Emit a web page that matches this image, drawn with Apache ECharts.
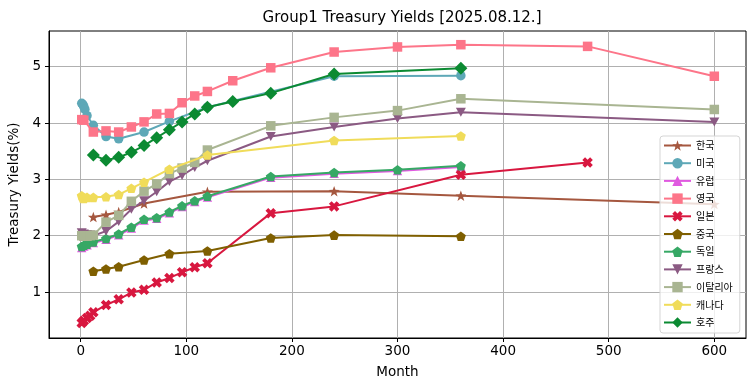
<!DOCTYPE html>
<html>
<head>
<meta charset="utf-8">
<script src="https://cdn.jsdelivr.net/npm/echarts@6/dist/echarts.min.js"></script>
<style>html,body{margin:0;padding:0;background:#fff}#c{width:755px;height:391px}</style>
</head>
<body>
<div id="c"></div>
<script>
// ---- data ----
const seriesNames = ['한국','미국','유럽','영국','일본','중국','독일','프랑스','이탈리아','캐나다','호주'];
const xTicks = [0,100,200,300,400,500,600];
const yTicks = [1,2,3,4,5];

const koreaMonths = [12,24,36,60,120,240,360,600];
const koreaYields = [2.33,2.37,2.42,2.57,2.78,2.79,2.71,2.56];

const usMonths = [1,2,3,4,6,12,24,36,60,84,120,240,360];
const usYields = [4.35,4.33,4.29,4.24,4.13,3.96,3.76,3.72,3.84,4.03,4.28,4.83,4.84];

const euMonths = [1,3,6,12,24,36,48,60,72,84,96,108,120,180,240,300,360];
const euYields = [1.78,1.81,1.83,1.87,1.93,2.01,2.13,2.27,2.30,2.40,2.51,2.60,2.68,3.03,3.10,3.15,3.22];

const ukMonths = [1,3,12,24,36,48,60,72,84,96,108,120,144,180,240,300,360,480,600];
const ukYields = [4.06,4.05,3.84,3.86,3.84,3.93,4.02,4.16,4.17,4.36,4.48,4.56,4.75,4.98,5.26,5.35,5.39,5.36,4.83];

const japanMonths = [1,3,6,9,12,24,36,48,60,72,84,96,108,120,180,240,360,480];
const japanYields = [0.45,0.49,0.54,0.58,0.64,0.77,0.87,0.99,1.04,1.17,1.25,1.35,1.44,1.51,2.40,2.52,3.08,3.30];

const chinaMonths = [12,24,36,60,84,120,180,240,360];
const chinaYields = [1.37,1.41,1.45,1.57,1.68,1.73,1.96,2.01,1.99];

const germanyMonths = [1,3,6,12,24,36,48,60,72,84,96,108,120,180,240,300,360];
const germanyYields = [1.81,1.83,1.85,1.89,1.95,2.03,2.15,2.29,2.32,2.42,2.53,2.62,2.70,3.05,3.12,3.17,3.24];

const franceMonths = [1,3,6,9,12,24,36,48,60,72,84,96,108,120,180,240,300,360,600];
const franceYields = [2.05,2.03,2.02,2.01,2.00,2.08,2.25,2.47,2.62,2.78,2.96,3.07,3.21,3.33,3.76,3.93,4.08,4.19,4.02];

const italyMonths = [1,3,6,9,12,24,36,48,60,72,84,96,108,120,180,240,300,360,600];
const italyYields = [2.00,1.99,1.99,2.00,2.01,2.24,2.36,2.61,2.79,2.92,3.10,3.20,3.30,3.52,3.95,4.10,4.22,4.43,4.24];

const canadaMonths = [1,2,3,6,12,24,36,48,60,84,120,240,360];
const canadaYields = [2.71,2.67,2.66,2.68,2.68,2.69,2.73,2.84,2.95,3.18,3.43,3.69,3.77];

const australiaMonths = [12,24,36,48,60,72,84,96,108,120,144,180,240,360];
const australiaYields = [3.43,3.34,3.39,3.48,3.60,3.74,3.88,4.02,4.16,4.28,4.38,4.53,4.87,4.97];

// ---- styles ----
const STAR = 'path://M0,-10L2.35,-3.24L9.51,-3.09L3.8,1.24L5.88,8.09L0,4L-5.88,8.09L-3.8,1.24L-9.51,-3.09L-2.35,-3.24Z';
const XMARK = 'path://M0,2.6L2.6,0L5,2.4L7.4,0L10,2.6L7.6,5L10,7.4L7.4,10L5,7.6L2.6,10L0,7.4L2.4,5Z';
const PENT = 'path://M0,-10L9.51,-3.09L5.88,8.09L-5.88,8.09L-9.51,-3.09Z';
const TRIDOWN = 'path://M-10,-9L10,-9L0,9Z';
const TRIUP = 'path://M0,-9L10,9L-10,9Z';

const specs = [
  {m: koreaMonths, v: koreaYields, c: '#a5573f', s: STAR, z: 11},
  {m: usMonths, v: usYields, c: '#5ea8b7', s: 'circle', z: 9.5},
  {m: euMonths, v: euYields, c: '#e05ae0', s: TRIUP, z: 9.5},
  {m: ukMonths, v: ukYields, c: '#fd7589', s: 'rect', z: 9.5},
  {m: japanMonths, v: japanYields, c: '#d8173f', s: XMARK, z: 10.5},
  {m: chinaMonths, v: chinaYields, c: '#7f5f00', s: PENT, z: 10},
  {m: germanyMonths, v: germanyYields, c: '#36a865', s: PENT, z: 10},
  {m: franceMonths, v: franceYields, c: '#8b5a83', s: TRIDOWN, z: 10},
  {m: italyMonths, v: italyYields, c: '#a9b592', s: 'rect', z: 9.5},
  {m: canadaMonths, v: canadaYields, c: '#f0dc5a', s: PENT, z: 10},
  {m: australiaMonths, v: australiaYields, c: '#0b8a32', s: 'diamond', z: 13}
];

const series = specs.map((sp, i) => ({
  name: seriesNames[i],
  type: 'line',
  data: sp.m.map((m, k) => [m, sp.v[k]]),
  symbol: sp.s,
  symbolSize: sp.z,
  symbolKeepAspect: true,
  showSymbol: true,
  lineStyle: {width: 2, color: sp.c},
  itemStyle: {color: sp.c, borderColor: sp.c, borderWidth: 0},
  emphasis: {disabled: true},
  z: 2 + i
}));

const chart = echarts.init(document.getElementById('c'), null, {renderer: 'canvas'});
const FONT = 'DejaVu Sans, Noto Sans CJK KR, sans-serif';
chart.setOption({
  animation: false,
  backgroundColor: '#fff',
  title: {
    text: 'Group1 Treasury Yields [2025.08.12.]',
    left: 397, textAlign: 'center', top: 6,
    textStyle: {fontFamily: FONT, fontSize: 15, fontWeight: 'normal', color: '#000'}
  },
  grid: {left: 48, right: 9, top: 31, bottom: 53, show: true, borderColor: '#000', borderWidth: 1, backgroundColor: 'transparent', containLabel: false},
  xAxis: {
    type: 'value', min: -30, max: 630,
    name: 'Month', nameLocation: 'middle', nameGap: 28,
    nameTextStyle: {fontFamily: FONT, fontSize: 13.5, color: '#000'},
    axisLine: {show: true, onZero: false, lineStyle: {color: '#000', width: 1}},
    axisTick: {show: true, inside: false, length: 4, lineStyle: {color: '#000'}, customValues: xTicks},
    axisLabel: {fontFamily: FONT, fontSize: 13.5, color: '#000', margin: 7, customValues: xTicks},
    splitLine: {show: true, lineStyle: {color: '#b0b0b0', width: 1}}
  },
  yAxis: {
    type: 'value', min: 0.184, max: 5.633,
    name: 'Treasury Yields(%)', nameLocation: 'middle', nameGap: 26,
    nameTextStyle: {fontFamily: FONT, fontSize: 13.5, color: '#000'},
    axisLine: {show: true, onZero: false, lineStyle: {color: '#000', width: 1}},
    axisTick: {show: true, inside: false, length: 4, lineStyle: {color: '#000'}, customValues: yTicks},
    axisLabel: {fontFamily: FONT, fontSize: 13.5, color: '#000', margin: 8, customValues: yTicks},
    splitLine: {show: true, lineStyle: {color: '#b0b0b0', width: 1}}
  },
  legend: {
    data: seriesNames,
    orient: 'vertical',
    left: 660, top: 136,
    padding: [3, 7, 4, 3],
    itemWidth: 27, itemHeight: 13, itemGap: 4.7,
    backgroundColor: 'rgba(255,255,255,0.8)',
    borderColor: '#d5d5d5', borderWidth: 1, borderRadius: 3,
    textStyle: {fontFamily: 'Noto Sans CJK KR, sans-serif', fontSize: 10, color: '#000', lineHeight: 13},
    itemStyle: {borderWidth: 0}
  },
  series: series
});
</script>
</body>
</html>
